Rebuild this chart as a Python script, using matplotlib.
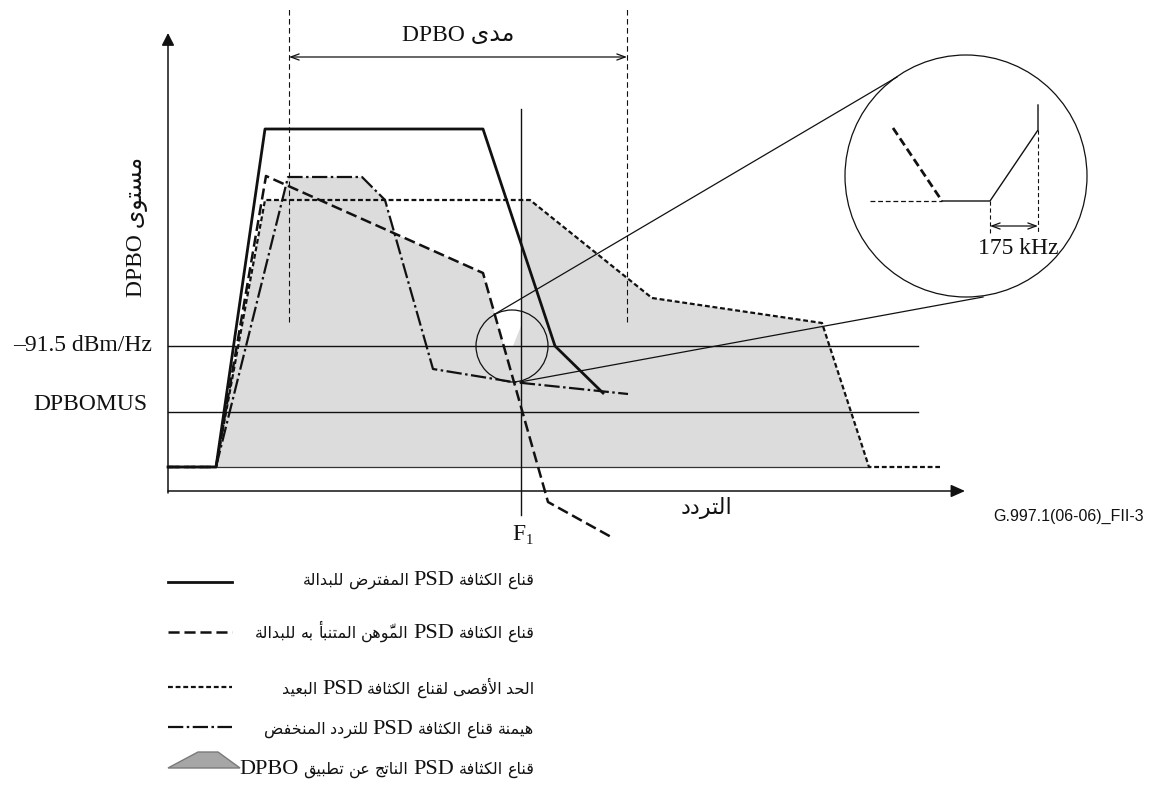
import matplotlib
matplotlib.use('Agg')
import matplotlib.pyplot as plt
from matplotlib.patches import Circle, Polygon

plt.rcParams['lines.scale_dashes'] = False
plt.rcParams['font.family'] = ['Liberation Serif', 'DejaVu Sans']

# ---------------- data (frequency units, level units) ----------------
assumed_f = [0, 48, 97, 315, 387, 435]
assumed_L = [24, 24, 362, 362, 145, 98]

predicted_f = [0, 48, 98, 315, 380, 445]
predicted_L = [24, 24, 315, 218, -11, -47]

farend_f = [0, 48, 97, 362, 484, 654, 701, 772]
farend_L = [24, 24, 291, 291, 193, 168, 24, 24]

lf_f = [0, 48, 120, 194, 217, 265, 345, 460]
lf_L = [24, 24, 314, 314, 291, 122, 109, 97]

dpbo_f = [48, 97, 114, 120, 194, 217, 227, 315, 336, 345, 353, 353, 362, 484, 654, 701]
dpbo_L = [24, 291, 291, 314, 314, 291, 257, 218, 145, 145, 165, 291, 291, 193, 168, 24]

level_floor = 145      # -91.5 dBm/Hz
level_dpbomus = 79
level_base = 24
F1 = 353
range_lo, range_hi = 121, 459

# magnified detail
zoom_pred_f = [725, 774]
zoom_pred_L = [363, 290]
zoom_far_f = [702, 774]
zoom_far_L = [290, 290]
zoom_res_f = [774, 822, 870, 870]
zoom_res_L = [290, 290, 361, 386]

y_labels = ['–91.5 dBm/Hz', 'DPBOMUS']
legend_labels = [
    'قناع الكثافة PSD المفترض للبدالة',
    'قناع الكثافة PSD الموَّهن المتنبأ به للبدالة',
    'الحد الأقصى لقناع الكثافة PSD البعيد',
    'هيمنة قناع الكثافة PSD للتردد المنخفض',
    'قناع الكثافة PSD الناتج عن تطبيق DPBO',
]
range_label = 'مدى DPBO'
ylabel = 'مستوى DPBO'
xlabel = 'التردد'
fig_id = 'G.997.1(06-06)_FII-3'

# ---------------- minimal Arabic shaping ----------------
_FORMS = {
    '\u0627': (0xFE8D, 2), '\u0623': (0xFE83, 2), '\u0628': (0xFE8F, 4), '\u0629': (0xFE93, 2),
    '\u062A': (0xFE95, 4), '\u062B': (0xFE99, 4), '\u062C': (0xFE9D, 4), '\u062D': (0xFEA1, 4),
    '\u062E': (0xFEA5, 4), '\u062F': (0xFEA9, 2), '\u0630': (0xFEAB, 2), '\u0631': (0xFEAD, 2),
    '\u0632': (0xFEAF, 2), '\u0633': (0xFEB1, 4), '\u0634': (0xFEB5, 4), '\u0635': (0xFEB9, 4),
    '\u0636': (0xFEBD, 4), '\u0637': (0xFEC1, 4), '\u0638': (0xFEC5, 4), '\u0639': (0xFEC9, 4),
    '\u063A': (0xFECD, 4), '\u0641': (0xFED1, 4), '\u0642': (0xFED5, 4), '\u0643': (0xFED9, 4),
    '\u0644': (0xFEDD, 4), '\u0645': (0xFEE1, 4), '\u0646': (0xFEE5, 4), '\u0647': (0xFEE9, 4),
    '\u0648': (0xFEED, 2), '\u0649': (0xFEEF, 2), '\u064A': (0xFEF1, 4),
    'LA': (0xFEFB, 2), 'LAH': (0xFEF7, 2),
}


def is_arabic(w):
    return any('\u0600' <= c <= '\u06FF' for c in w)


def shape_word(word):
    clusters = []
    for ch in word:
        if '\u064B' <= ch <= '\u0652' and clusters:
            clusters[-1][1] += ch
        else:
            clusters.append([ch, ''])
    merged = []
    i = 0
    while i < len(clusters):
        b, m = clusters[i]
        if b == '\u0644' and i + 1 < len(clusters) and clusters[i + 1][0] in ('\u0627', '\u0623'):
            key = 'LA' if clusters[i + 1][0] == '\u0627' else 'LAH'
            merged.append([key, m + clusters[i + 1][1]])
            i += 2
        else:
            merged.append([b, m])
            i += 1
    out = []
    n = len(merged)
    for i, (b, m) in enumerate(merged):
        if b not in _FORMS:
            out.append(b + m)
            continue
        start, cnt = _FORMS[b]
        prev_j = i > 0 and merged[i - 1][0] in _FORMS and _FORMS[merged[i - 1][0]][1] == 4
        next_j = cnt == 4 and i + 1 < n and merged[i + 1][0] in _FORMS
        off = 3 if (prev_j and next_j) else 1 if prev_j else 2 if next_j else 0
        out.append(chr(start + off) + m)
    return ''.join(reversed(out))


def rtl(text):
    words = text.split(' ')
    vis = [shape_word(w) if is_arabic(w) else w for w in words]
    return ' '.join(reversed(vis))


# ---------------- figure ----------------
fig = plt.figure(figsize=(11.52, 7.86), dpi=100)
ax = fig.add_axes([0, 0, 1, 1])
ax.set_xlim(-168, 984)
ax.set_ylim(-295, 491)
ax.axis('off')
renderer = fig.canvas.get_renderer()

INK = '#111111'
GREY = '#dcdcdc'
FS = 17


def rtl_runs(x_right, y_base, text, ar_fs, lat_fs, gap=4.5):
    """Place words right-to-left, Arabic and Latin at their own sizes."""
    cur = x_right
    for w in text.split(' '):
        ar = is_arabic(w)
        t = ax.text(cur, y_base, shape_word(w) if ar else w, ha='right', va='baseline',
                    fontsize=ar_fs if ar else lat_fs,
                    family='DejaVu Sans' if ar else 'Liberation Serif', color=INK)
        cur -= t.get_window_extent(renderer).width + gap


ax.fill(dpbo_f, dpbo_L, color=GREY, lw=0, zorder=1)
ax.plot([48, 701], [level_base, level_base], color='#333333', lw=0.9, zorder=2)
for lv in (level_floor, level_dpbomus):
    ax.plot([0, 750], [lv, lv], color=INK, lw=1.0, zorder=2)

# axes with arrows
ax.annotate('', xy=(0, 458), xytext=(0, -2),
            arrowprops=dict(arrowstyle='-|>,head_length=0.75,head_width=0.38',
                            mutation_scale=10, lw=1.1, color=INK, shrinkA=0, shrinkB=0), zorder=3)
ax.annotate('', xy=(797, 0), xytext=(0, 0),
            arrowprops=dict(arrowstyle='-|>,head_length=0.85,head_width=0.38',
                            mutation_scale=10, lw=1.1, color=INK, shrinkA=0, shrinkB=0), zorder=3)

# DPBO range
for x in (range_lo, range_hi):
    ax.plot([x, x], [169, 483], color=INK, lw=0.8, ls=(0, (4, 2.5)), zorder=3)
ax.annotate('', xy=(range_hi, 434), xytext=(range_lo, 434),
            arrowprops=dict(arrowstyle='<->,head_length=0.6,head_width=0.22',
                            mutation_scale=10, lw=0.9, color=INK, shrinkA=0, shrinkB=0), zorder=3)
ax.text((range_lo + range_hi) / 2, 456, rtl(range_label), ha='center', va='center', fontsize=FS, color=INK)

# F1
ax.plot([F1, F1], [-24, 382], color=INK, lw=1.0, zorder=3)
ax.text(F1 - 2.5, -43, 'F', ha='center', va='center', fontsize=17, color=INK)
ax.text(F1 + 8, -50, '1', ha='center', va='center', fontsize=10.5, color=INK)

# curves
ax.plot(farend_f, farend_L, color=INK, lw=1.6, ls=(0, (3.5, 2)), zorder=4)
ax.plot(lf_f, lf_L, color=INK, lw=1.6, ls=(0, (11, 2.5, 1.8, 2.5)), zorder=4)
ax.plot(predicted_f, predicted_L, color=INK, lw=1.8, ls=(0, (8, 3.5)), zorder=4)
ax.plot(assumed_f, assumed_L, color=INK, lw=2.0, zorder=5)

# magnifier
ax.add_patch(Circle((344, level_floor), 36, fill=False, lw=0.9, ec=INK, zorder=6))
ax.add_patch(Circle((798, 315), 121, fill=False, lw=0.9, ec=INK, zorder=6))
ax.plot([327, 729], [177, 414], color=INK, lw=0.9, zorder=6)
ax.plot([352, 815], [109, 194], color=INK, lw=0.9, zorder=6)
ax.plot(zoom_pred_f, zoom_pred_L, color=INK, lw=2.0, ls=(0, (6, 3)), zorder=6)
ax.plot(zoom_far_f, zoom_far_L, color=INK, lw=0.9, ls=(0, (3.5, 2)), zorder=6)
ax.plot(zoom_res_f, zoom_res_L, color=INK, lw=1.0, zorder=6)
ax.plot([822, 822], [290, 258], color=INK, lw=0.8, ls=(0, (3, 2)), zorder=6)
ax.plot([870, 870], [361, 258], color=INK, lw=0.8, ls=(0, (3, 2)), zorder=6)
ax.annotate('', xy=(870, 265), xytext=(822, 265),
            arrowprops=dict(arrowstyle='<->,head_length=0.6,head_width=0.22',
                            mutation_scale=10, lw=0.9, color=INK, shrinkA=0, shrinkB=0), zorder=6)
ax.text(850, 243, '175 kHz', ha='center', va='center', fontsize=FS, color=INK, zorder=7)

# axis labels
ax.text(-16, level_floor, y_labels[0], ha='right', va='center', fontsize=FS, color=INK)
ax.text(-21, level_dpbomus + 7, y_labels[1], ha='right', va='center', fontsize=FS, color=INK)
ax.text(-30, 264, rtl(ylabel), ha='center', va='center', rotation=90, fontsize=FS, color=INK)
ax.text(539, -17, rtl(xlabel), ha='center', va='center', fontsize=16, color=INK)
ax.text(825, -25, fig_id, ha='left', va='center', fontsize=11.5, family='Liberation Sans', color=INK)

# legend
leg_base_L = [-94, -147, -203, -243, -283]
leg_line_L = [-91, -141, -196, -236]
leg_styles = [dict(lw=2.0, ls='-'), dict(lw=1.8, ls=(0, (8, 3.5))),
              dict(lw=1.6, ls=(0, (3.5, 2))), dict(lw=1.6, ls=(0, (11, 2.5, 1.8, 2.5)))]
for yl, st in zip(leg_line_L, leg_styles):
    ax.plot([0, 64], [yl, yl], color=INK, **st)
ax.add_patch(Polygon([(0, -277), (30, -261), (50, -261), (72, -277)], closed=True,
                     fc='#a6a6a6', ec='#7a7a7a', lw=1.0))
for yb, lab in zip(leg_base_L, legend_labels):
    rtl_runs(366, yb, lab, ar_fs=11.5, lat_fs=16)

fig.savefig('out.png', dpi=100)
